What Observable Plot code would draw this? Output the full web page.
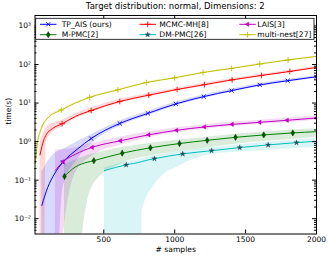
<!DOCTYPE html>
<html><head><meta charset="utf-8">
<script src="https://cdn.jsdelivr.net/npm/d3@7"></script>
<script src="https://cdn.jsdelivr.net/npm/@observablehq/plot@0.6"></script>
<style>
body{margin:0;background:#fff;font-family:"DejaVu Sans",sans-serif;}
#title{height:13px;line-height:13px;font-size:8.5px;text-align:center;margin-left:34.5px;width:281.5px;color:#000;white-space:nowrap;}
#chart svg{display:block;}
</style></head><body>
<div id="title">Target distribution: normal, Dimensions: 2</div>
<div id="chart"></div>
<script>
// ---- data ----
const seriesNames = ["TP_AIS (ours)", "MCMC-MH[8]", "LAIS[3]", "M-PMC[2]", "DM-PMC[26]", "multi-nest[27]"];
const seriesColors = ["#0000ff", "#ff0000", "#bf00bf", "#008000", "#00bfbf", "#bfbf00"];

const samplesTP = [63,105,152,211,317,411,613,811,1008,1205,1401,1600,1797,2000];
const timeTP    = [0.022,0.065,0.145,0.29,0.65,1.2,2.95,5.4,9.5,14.7,21,29.5,38,48];
const loTP      = [1e-5,1e-5,1e-5,0.06,0.35,0.85,2.5,4.7,8.4,13.2,19,26.8,34.6,43.8];
const hiTP      = [0.16,0.3,0.48,0.62,1.0,1.5,3.4,6.1,10.6,16.2,23,32.2,41.4,52.2];
const markTP    = [0,0,0,1,0,1,1,1,1,1,1,1,1,1];

const samplesMH = [50,77,94,140,206,300,411,613,817,1017,1210,1405,1612,1812,2000];
const timeMH    = [0.45,1.1,1.5,2.2,2.9,4.5,6.4,11,16,22.5,30,40,52,66,84];
const loMH      = [1e-5,1e-5,0.95,1.7,2.4,3.9,5.6,9.8,14.5,20.5,27.5,37,48,61,78];
const hiMH      = [0.9,1.8,2.3,3.0,3.6,5.3,7.4,12.5,17.8,24.7,32.6,43.2,56,71,90];
const markMH    = [0,0,0,0,1,0,1,1,1,1,1,1,1,1,0];

const samplesLAIS = [159,213,300,418,618,817,1013,1210,1405,1600,1793,2000];
const timeLAIS    = [0.18,0.30,0.47,0.71,1.05,1.5,1.96,2.4,2.8,3.16,3.57,4.1];
const loLAIS      = [1e-5,0.003,0.15,0.42,0.8,1.25,1.7,2.1,2.45,2.8,3.15,3.6];
const hiLAIS      = [0.6,0.62,0.68,0.9,1.3,1.8,2.3,2.75,3.2,3.6,4.05,4.65];
const markLAIS    = [0,1,0,1,1,1,1,1,1,1,1,1];

const samplesMPMC = [223,300,341,430,630,829,1034,1229,1429,1628,1833,2000];
const timeMPMC    = [0.125,0.22,0.26,0.32,0.50,0.69,0.89,1.08,1.29,1.49,1.68,1.81];
const loMPMC      = [1e-5,1e-5,0.002,0.08,0.27,0.42,0.55,0.68,0.85,1.0,1.15,1.3];
const hiMPMC      = [0.25,0.33,0.38,0.48,0.7,0.9,1.1,1.3,1.55,1.78,2.0,2.15];
const markMPMC    = [1,0,0,1,1,1,1,1,1,1,1,0];

const samplesDM = [505,658,764,770,857,1057,1260,1459,1659,1859,2000];
const timeDM    = [0.177,0.25,0.3,0.305,0.36,0.48,0.58,0.70,0.82,0.94,1.02];
const loDM      = [1e-5,1e-5,1e-5,0.015,0.075,0.26,0.46,0.54,0.6,0.66,0.71];
const hiDM      = [0.21,0.3,0.36,0.365,0.43,0.57,0.69,0.83,0.97,1.1,1.2];
const markDM    = [0,1,0,0,1,1,1,1,1,1,0];

const samplesMN = [18,30,54,100,200,300,400,600,800,1000,1200,1400,1600,1800,2000];
const timeMN    = [0.27,0.79,1.9,3.9,6.6,10,14,22,34,45,62,79,103,131,162];
const loMN      = [0.22,0.7,1.75,3.6,6.2,9.4,13.2,20.8,32.2,42.7,58.9,75,98,124.5,154];
const hiMN      = [0.33,0.9,2.05,4.2,7.0,10.6,14.8,23.2,35.8,47.3,65.1,83,108,137.5,170];
const markMN    = [0,0,0,0,1,0,1,1,1,1,1,1,1,1,1];

const xTicks = [500, 1000, 1500, 2000];
const yTicks = [0.01, 0.1, 1, 10, 100, 1000];
const yTickLabels = ["10⁻²", "10⁻¹", "10⁰", "10¹", "10²", "10³"];

// ---- build ----
const raw = [
  [samplesTP, timeTP, loTP, hiTP, markTP],
  [samplesMH, timeMH, loMH, hiMH, markMH],
  [samplesLAIS, timeLAIS, loLAIS, hiLAIS, markLAIS],
  [samplesMPMC, timeMPMC, loMPMC, hiMPMC, markMPMC],
  [samplesDM, timeDM, loDM, hiDM, markDM],
  [samplesMN, timeMN, loMN, hiMN, markMN]
];
const sets = raw.map(([xs, ts, lo, hi, mk], s) =>
  xs.map((x, i) => ({s, x, t: ts[i], lo: lo[i], hi: hi[i], m: mk[i]})));

const symbols = [
  {symbol: "times", stroke: seriesColors[0], fill: "none", r: 2.0, strokeWidth: 0.9},
  {symbol: "plus", stroke: seriesColors[1], fill: "none", r: 2.0, strokeWidth: 0.9},
  {symbol: "triangle", fill: seriesColors[2], stroke: seriesColors[2], r: 1.6, rotate: -90, strokeWidth: 0.5},
  {symbol: "diamond", fill: "#005a00", stroke: "#003000", r: 1.9, strokeWidth: 0.5},
  {symbol: "star", fill: "#1d4d5a", stroke: "#1d4d5a", r: 1.7, strokeWidth: 0.3},
  {symbol: "plus", stroke: seriesColors[5], fill: "none", r: 2.0, strokeWidth: 0.9}
];

const W = 332, H = 246, mL = 34.5, mR = 16, mT = 2, mB = 25.5;
const pw = W - mL - mR, ph = H - mT - mB;
const xDomain = [15, 2000], yDomain = [0.004, 1870];

const yMinor = [];
for (let e = -3; e <= 3; e++) for (let k = 2; k <= 9; k++) {
  const v = k * Math.pow(10, e);
  if (v > yDomain[0] && v < yDomain[1]) yMinor.push(v);
}

const marks = [];
sets.forEach((d, s) => {
  marks.push(Plot.areaY(d, {x: "x", y1: "lo", y2: "hi", fill: seriesColors[s], fillOpacity: 0.15, curve: "monotone-x", clip: true}));
});
sets.forEach((d, s) => {
  marks.push(Plot.lineY(d, {x: "x", y: "t", stroke: seriesColors[s], strokeWidth: 1, curve: "monotone-x", clip: true}));
});
sets.forEach((d, s) => {
  marks.push(Plot.dot(d.filter(p => p.m), {x: "x", y: "t", ...symbols[s], clip: true}));
});
// ticks inward on all sides
marks.push(Plot.ruleX(xTicks, {x: d => d, insetTop: ph - 4, stroke: "#000"}));
marks.push(Plot.ruleX(xTicks, {x: d => d, insetBottom: ph - 4, stroke: "#000"}));
marks.push(Plot.ruleY(yTicks, {y: d => d, insetRight: pw - 4, stroke: "#000"}));
marks.push(Plot.ruleY(yTicks, {y: d => d, insetLeft: pw - 4, stroke: "#000"}));
marks.push(Plot.ruleY(yMinor, {y: d => d, insetRight: pw - 2, stroke: "#000"}));
marks.push(Plot.ruleY(yMinor, {y: d => d, insetLeft: pw - 2, stroke: "#000"}));
marks.push(Plot.frame({stroke: "#000", strokeWidth: 1}));
marks.push(Plot.axisX({ticks: xTicks, tickSize: 0, tickPadding: 3, label: null, tickFormat: d => String(d)}));
marks.push(Plot.axisY({ticks: yTicks, tickSize: 0, tickPadding: 4, label: null, tickFormat: d => yTickLabels[yTicks.indexOf(d)]}));
marks.push(Plot.text(["# samples"], {frameAnchor: "bottom", dy: 18, text: d => d, fontSize: 7.6}));
marks.push(Plot.text(["time(s)"], {frameAnchor: "left", dx: -26, rotate: -90, text: d => d, fontSize: 7.6}));

const chart = Plot.plot({
  width: W, height: H,
  marginLeft: mL, marginRight: mR, marginTop: mT, marginBottom: mB,
  style: {fontFamily: "DejaVu Sans, sans-serif", fontSize: "7.5px", color: "#000", background: "#fff"},
  x: {type: "linear", domain: xDomain},
  y: {type: "log", domain: yDomain},
  marks
});
document.getElementById("chart").appendChild(chart);

// ---- legend ----
const svg = d3.select(chart);
const lg = svg.append("g").attr("font-family", "DejaVu Sans, sans-serif").attr("font-size", 7.6).attr("text-anchor", "start");
lg.append("rect").attr("x", 35.7).attr("y", 5.3).attr("width", 278.3).attr("height", 21)
  .attr("fill", "#fff").attr("stroke", "#000").attr("stroke-width", 0.8);
const colX = [40, 139.5, 239.3], colTx = [61.7, 159.3, 257.3], rowY = [11.3, 21.7];
const d3sym = {times: d3.symbolTimes, plus: d3.symbolPlus, triangle: d3.symbolTriangle, diamond: d3.symbolDiamond, star: d3.symbolStar};
seriesNames.forEach((name, i) => {
  const c = i % 3, r = Math.floor(i / 3);
  const x1 = colX[c], x2 = x1 + 16.5, y = rowY[r], sy = symbols[i];
  lg.append("line").attr("x1", x1).attr("x2", x2).attr("y1", y).attr("y2", y)
    .attr("stroke", seriesColors[i]).attr("stroke-width", 1);
  lg.append("path")
    .attr("d", d3.symbol(d3sym[sy.symbol], Math.PI * sy.r * sy.r)())
    .attr("transform", `translate(${(x1 + x2) / 2},${y}) rotate(${sy.rotate || 0})`)
    .attr("fill", sy.fill).attr("stroke", sy.stroke).attr("stroke-width", sy.strokeWidth);
  lg.append("text").attr("x", colTx[c]).attr("y", y).attr("dy", "0.35em").attr("text-anchor", "start").text(name);
});
</script></body></html>
